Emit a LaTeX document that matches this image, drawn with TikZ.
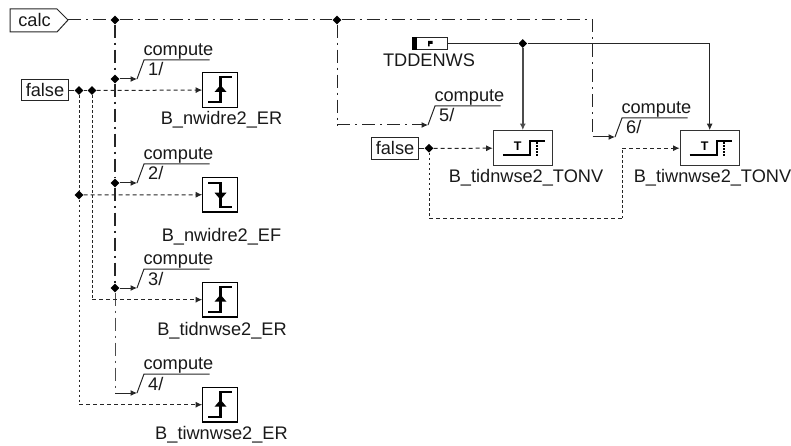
\documentclass[tikz,border=0pt]{standalone}
\usepackage{fontspec}
\setmainfont{Liberation Sans}
\usetikzlibrary{arrows.meta,shapes.geometric}
\tikzset{
  x=1pt,y=-1pt,
  wire/.style={line width=1pt,draw=black!85},
  ctl/.style={wire,dash pattern=on 13pt off 5pt on 2pt off 5pt},
  ctlthick/.style={wire,line width=1.6pt,dash pattern=on 13pt off 5pt on 2pt off 5pt},
  sig/.style={wire,dash pattern=on 4pt off 3pt},
  sigv/.style={wire,dash pattern=on 2.5pt off 2.5pt},
  tip/.style={-{Latex[length=6.5pt,width=6pt]}},
  junc/.style={diamond,fill=black,inner sep=0pt,minimum size=9pt},
  lbl/.style={font=\fontsize{18.2}{20}\selectfont,inner sep=0pt,text=black!90,anchor=base},
  ibox/.style={draw=black!85,line width=1pt,fill=white,inner sep=0pt},
  edgebox/.style={draw=black,line width=1.1pt,fill=white,minimum width=34.5pt,minimum height=34.5pt,inner sep=0pt},
  tonbox/.style={draw=black!80,line width=1.2pt,fill=white,minimum width=59pt,minimum height=35pt,inner sep=0pt},
  sym/.style={line width=2.2pt,draw=black},
  pics/rise/.style={code={
    \draw[sym] (-12,12) -- (0.5,12) -- (0.5,-13) -- (12,-13);
    \fill[black] (0.5,-5) -- (6.5,2) -- (-5.5,2) -- cycle;}},
  pics/fall/.style={code={
    \draw[sym] (-12,-12) -- (0.5,-12) -- (0.5,12) -- (12,12);
    \fill[black] (0.5,5) -- (6.5,-2) -- (-5.5,-2) -- cycle;}},
  pics/ton/.style={code={
    \draw[sym] (-20,7) -- (7,7) -- (7,-7) -- (22,-7);
    \draw[line width=1.7pt,draw=black,dash pattern=on 1.6pt off 1.4pt] (14.5,-6) -- (14.5,8);
    \node[inner sep=0pt,font=\bfseries\fontsize{12.5}{12.5}\selectfont] at (-5,-2) {T};}}
}
\begin{document}
\begin{tikzpicture}
\useasboundingbox (0,0) rectangle (791,446);
% input ports
\draw[draw=black!85,line width=1pt] (10,9) -- (57,9) -- (68,20) -- (57,32) -- (10,32) -- cycle;
\node[lbl] (calctxt) at (34.5,26.7) {calc};
\coordinate (calcE) at (68,20);
\node[ibox,minimum width=46.5pt,minimum height=21pt] (false1) at (45,90.5) {};
\node[lbl] (false1t) at (45,96.7) {false};
\node[ibox,minimum width=46.5pt,minimum height=21.5pt] (false2) at (395,148.3) {};
\node[lbl] (false2t) at (395,155) {false};
% blocks
\node[edgebox] (b1) at (220,90) {};
\node[edgebox] (b2) at (220,194.7) {};
\node[edgebox] (b3) at (220,299.7) {};
\node[edgebox] (b4) at (220,404.7) {};
\node[tonbox] (t1) at (522.8,148.2) {};
\node[tonbox] (t2) at (709.7,148.2) {};
\pic at (b1) {rise};
\pic at (b2) {fall};
\pic at (b3) {rise};
\pic at (b4) {rise};
\pic at (t1) {ton};
\pic at (t2) {ton};
% block labels
\node[lbl] (l1) at (221.5,125) {B\_nwidre2\_ER};
\node[lbl] (l2) at (221.5,241.5) {B\_nwidre2\_EF};
\node[lbl] (l3) at (222,335) {B\_tidnwse2\_ER};
\node[lbl] (l4) at (221.5,439) {B\_tiwnwse2\_ER};
\node[lbl] (l5) at (526,182.7) {B\_tidnwse2\_TONV};
\node[lbl] (l6) at (712.5,182.7) {B\_tiwnwse2\_TONV};
% junctions
\node[junc] (jc1) at (115,20) {};
\node[junc] (jc2) at (337,20) {};
\node[junc] (j1) at (115,79) {};
\node[junc] (j2) at (115,183) {};
\node[junc] (j3) at (115,288) {};
\coordinate (c4) at (115,393);
\node[junc] (fa) at (79,90.5) {};
\node[junc] (fb) at (92,90.5) {};
\node[junc] (fc) at (79,195) {};
\node[junc] (jt) at (522.8,43.5) {};
\node[junc] (fd) at (429,148.3) {};
% compute slashes
\foreach \n/\x/\y/\d in {s1/137/79/1,s2/137/183/2,s3/137/288/3,s4/137/393/4,s5/428/125/5,s6/615/137/6}{
  \coordinate (\n) at (\x,\y);
  \draw[wire] (\n) -- ++(7,-19) -- ++(65.5,0);
  \node[lbl,anchor=base west] at (\x+6.3,\y-23.7) {compute};
  \node[lbl,anchor=base west] at (\x+11,\y-3) {\d/};
}
% control wires
\draw[ctl] (calcE) -- (jc1);
\draw[ctl] (jc1) -- (jc2);
\coordinate (cturn) at (592.5,20);
\draw[ctl] (jc2) -- (cturn) -- (cturn |- s6);
\draw[wire,tip] (cturn |- s6) -- (s6);
\draw[ctlthick] (jc1) -- (j1);
\draw[ctlthick] (j1) -- (j2);
\draw[ctlthick] (j2) -- (j3);
\draw[wire,draw=black!70,dash pattern=on 13pt off 5pt on 2pt off 5pt] (j3) -- (c4);
\draw[wire,tip] (j1) -- (s1);
\draw[wire,tip] (j2) -- (s2);
\draw[wire,tip] (j3) -- (s3);
\draw[wire,tip] (c4) -- (s4);
\draw[ctl] (jc2) -- (jc2 |- s5);
\draw[ctl,tip] (jc2 |- s5) -- (s5);
% false signals
\draw[wire] (false1) -- (fa);
\draw[sig] (fa) -- (fb);
\draw[sig,tip] (fb) -- (b1);
\draw[sigv] (fa) -- (fc);
\draw[sig,tip] (fc) -- (b2);
\coordinate (f4) at (79,404.7);
\coordinate (f3) at (92,299.7);
\draw[sigv] (fc) -- (f4);
\draw[sig,tip] (f4) -- (b4);
\draw[sigv] (fb) -- (f3);
\draw[sig,tip] (f3) -- (b3);
\draw[wire] (false2) -- (fd);
\draw[sig,tip] (fd) -- (t1);
\coordinate (d1) at (429,218);
\coordinate (d2) at (622,218);
\coordinate (d3) at (622,148.2);
\draw[sigv] (fd) -- (d1);
\draw[sig] (d1) -- (d2);
\draw[sigv] (d2) -- (d3);
\draw[sig,tip] (d3) -- (t2);
% parameter
\node[draw=black!85,line width=1pt,fill=white,minimum width=35.5pt,minimum height=12.4pt,inner sep=0pt] (par) at (430,43.5) {};
\fill[black] (412,37.3) rectangle (417,49.7);
\fill[black] (428,41) rectangle (432.5,44) (428,44) rectangle (429.6,46.5);
\node[lbl] (parl) at (429,66.7) {TDDENWS};
\draw[wire] (par) -- (jt);
\coordinate (tr) at (t2.north |- jt);
\draw[wire] (jt) -- (tr);
\draw[wire,tip] (tr) -- (t2.north);
\draw[wire,line width=1.4pt,draw=black!70,tip] (jt) -- (t1.north);
\end{tikzpicture}
\end{document}
